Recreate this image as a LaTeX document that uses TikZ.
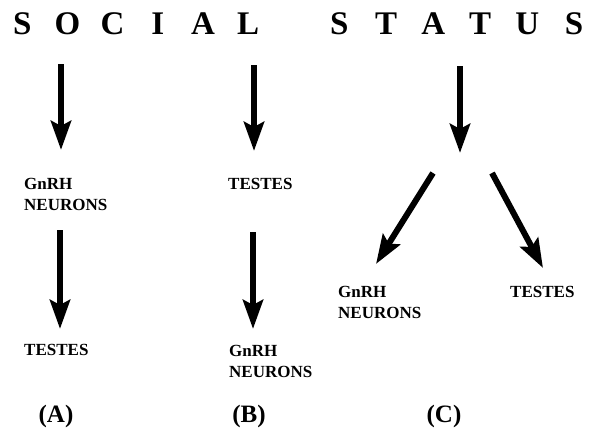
\documentclass[tikz,border=0pt]{standalone}
\usepackage{fontspec}
\setmainfont{Liberation Serif}
\usetikzlibrary{arrows.meta}
\newcommand\pitchA[1]{\makebox[45.2pt]{#1}}
\newcommand\pitchB[1]{\makebox[47pt]{#1}}
\begin{document}
\begin{tikzpicture}[x=1pt,y=-1pt,
  lbl/.style={font=\fontsize{17}{21}\selectfont\bfseries, anchor=base west, inner sep=0pt, align=left},
  ttl/.style={font=\fontsize{33}{36}\selectfont\bfseries, anchor=base west, inner sep=0pt},
  capt/.style={font=\fontsize{25}{28}\selectfont\bfseries, anchor=base, inner sep=0pt},
  arr/.style={line width=6pt, -{Stealth[width=20pt,length=29pt,inset=5pt]}}]
\useasboundingbox (0,0) rectangle (591,436);
\fill[white] (0,0) rectangle (591,436);
% title
\node[ttl] (social) at (-0.6,35) {\pitchA{S}\pitchA{O}\pitchA{C}\pitchA{I}\pitchA{A}\pitchA{L}};
\node[ttl] (status) at (315.5,35) {\pitchB{S}\pitchB{T}\pitchB{A}\pitchB{T}\pitchB{U}\pitchB{S}};
% column A
\node[lbl] (gnA) at (24,210) {GnRH\\NEURONS};
\node[lbl] (teA) at (24,355) {TESTES};
\node[capt] (capA) at (56,422) {(A)};
% column B
\node[lbl] (teB) at (228,189) {TESTES};
\node[lbl] (gnB) at (229,377) {GnRH\\NEURONS};
\node[capt] (capB) at (249,422) {(B)};
% column C
\node[lbl] (gnC) at (338,318) {GnRH\\NEURONS};
\node[lbl] (teC) at (510,297) {TESTES};
\node[capt] (capC) at (444,422) {(C)};
% arrow end points
\coordinate (a1s) at (61,64);  \coordinate (a1e) at (61,150);
\coordinate (a2s) at (60,230); \coordinate (a2e) at (60,329);
\coordinate (b1s) at (254,65); \coordinate (b1e) at (254,151);
\coordinate (b2s) at (253,232);\coordinate (b2e) at (253,329);
\coordinate (c1s) at (460,66); \coordinate (c1e) at (460,153);
\coordinate (cls) at (433,173);\coordinate (cle) at (376,264);
\coordinate (crs) at (492,173);\coordinate (cre) at (543,268);
\draw[arr] (a1s) -- (a1e);
\draw[arr] (a2s) -- (a2e);
\draw[arr] (b1s) -- (b1e);
\draw[arr] (b2s) -- (b2e);
\draw[arr] (c1s) -- (c1e);
\draw[arr] (cls) -- (cle);
\draw[arr] (crs) -- (cre);
\end{tikzpicture}
\end{document}
